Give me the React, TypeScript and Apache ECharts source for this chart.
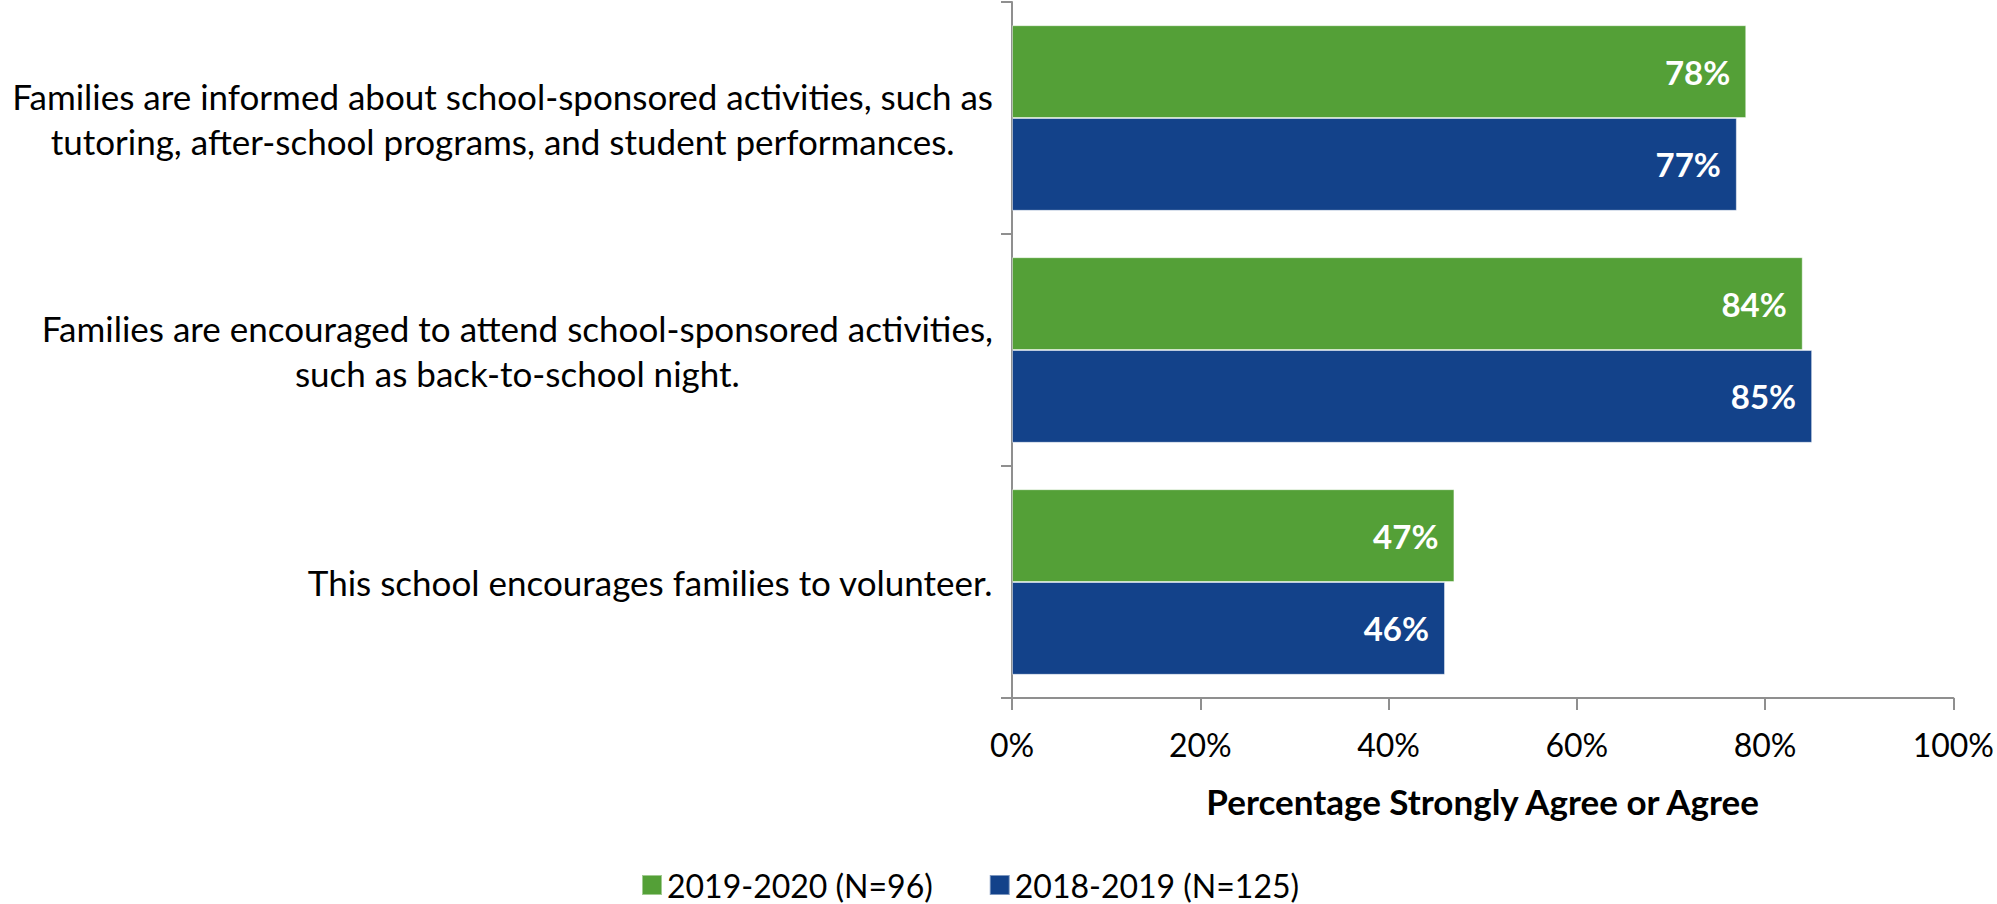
import React, { useEffect, useRef } from "react";
import * as echarts from "echarts";

const categories: string[] = [
  "Families are informed about school-sponsored activities, such as\ntutoring, after-school programs, and student performances.",
  "Families are encouraged to attend school-sponsored activities,\nsuch as back-to-school night.",
  "This school encourages families to volunteer.",
];
const seriesNames: string[] = ["2019-2020 (N=96)", "2018-2019 (N=125)"];
const values2020: number[] = [78, 84, 47];
const values2019: number[] = [77, 85, 46];
const axisTitle = "Percentage Strongly Agree or Agree";

const GREEN = "#54A037";
const BLUE = "#13428A";
const FONT = "Lato";

export default function App() {
  const ref = useRef<HTMLDivElement>(null);
  useEffect(() => {
    if (!ref.current) return;
    const chart = echarts.init(ref.current, null, { renderer: "svg" });
    const labelStyle = {
      show: true,
      position: "insideRight",
      distance: 16,
      color: "#ffffff",
      fontFamily: FONT,
      fontWeight: "bold",
      fontSize: 33,
      formatter: (p: any) => p.value + "%",
    };
    chart.setOption({
      animation: false,
      backgroundColor: "#ffffff",
      textStyle: { fontFamily: FONT },
      grid: { left: 1012, right: 40, top: 2, bottom: 206, containLabel: false },
      legend: {
        data: seriesNames,
        left: 636,
        top: 864,
        itemWidth: 20,
        itemHeight: 20,
        itemGap: 56,
        icon: "rect",
        textStyle: { fontFamily: FONT, fontSize: 32, color: "#000000" },
      },
      xAxis: {
        type: "value",
        min: 0,
        max: 100,
        interval: 20,
        name: axisTitle,
        nameLocation: "middle",
        nameGap: 85,
        nameTextStyle: { fontFamily: FONT, fontWeight: "bold", fontSize: 35, color: "#000000" },
        axisLine: { show: true, lineStyle: { color: "#8f8f8f", width: 2 } },
        axisTick: { show: true, length: 12, lineStyle: { color: "#8f8f8f", width: 2 } },
        splitLine: { show: false },
        axisLabel: {
          formatter: "{value}%",
          margin: 30,
          fontFamily: FONT,
          fontSize: 32,
          color: "#000000",
        },
      },
      yAxis: {
        type: "category",
        data: categories,
        inverse: true,
        axisLine: { show: true, lineStyle: { color: "#8f8f8f", width: 2 } },
        axisTick: { show: true, length: 11, lineStyle: { color: "#8f8f8f", width: 2 } },
        axisLabel: {
          margin: 19,
          align: "right",
          color: "#000000",
          formatter: (v: string) =>
            v
              .split("\n")
              .map((l) => "{c|" + l + "}")
              .join("\n"),
          rich: {
            c: {
              align: "center",
              fontFamily: FONT,
              fontSize: 35,
              lineHeight: 45,
              color: "#000000",
            },
          },
        },
      },
      series: [
        {
          name: seriesNames[0],
          type: "bar",
          data: values2020,
          barGap: "0%",
          barCategoryGap: "20%",
          itemStyle: { color: GREEN, borderColor: "rgba(255,255,255,0.45)", borderWidth: 1 },
          label: labelStyle,
        },
        {
          name: seriesNames[1],
          type: "bar",
          data: values2019,
          barGap: "0%",
          barCategoryGap: "20%",
          itemStyle: { color: BLUE, borderColor: "rgba(255,255,255,0.45)", borderWidth: 1 },
          label: labelStyle,
        },
      ],
    });
    return () => chart.dispose();
  }, []);
  return (
    <div
      ref={ref}
      style={{ position: "absolute", left: 0, top: 0, width: 1997, height: 904 }}
    />
  );
}
